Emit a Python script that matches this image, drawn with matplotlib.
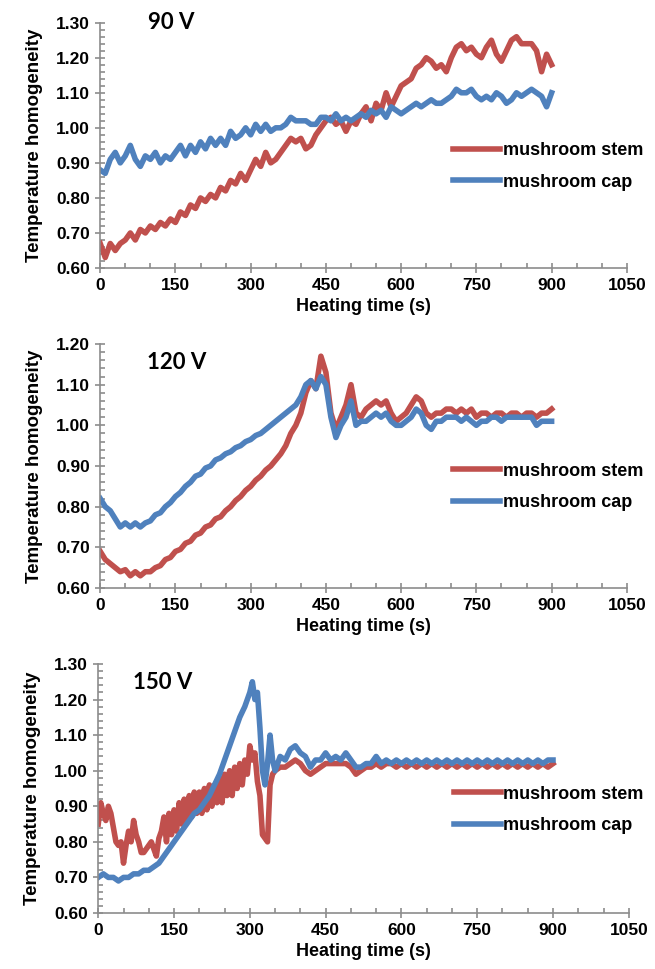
import numpy as np
import matplotlib
matplotlib.use('Agg')
import matplotlib.pyplot as plt
from matplotlib.ticker import MultipleLocator, FormatStrFormatter

plt.rcParams['font.family'] = ['Liberation Sans', 'DejaVu Sans']
plt.rcParams['font.weight'] = 'bold'

RED = '#C0504D'
BLUE = '#4F81BD'
GRAY = '#8C8C8C'

# ---- 90 V ----
t_90 = np.arange(0, 901, 10)
stem_90 = [0.67, 0.63, 0.67, 0.65, 0.67, 0.68, 0.70, 0.68, 0.71, 0.70,
           0.72, 0.71, 0.73, 0.72, 0.74, 0.73, 0.76, 0.75, 0.78, 0.77,
           0.80, 0.79, 0.81, 0.80, 0.83, 0.82, 0.85, 0.84, 0.87, 0.85,
           0.88, 0.91, 0.89, 0.93, 0.90, 0.91, 0.93, 0.95, 0.97, 0.96,
           0.97, 0.94, 0.95, 0.98, 1.00, 1.02, 1.03, 1.01, 1.02, 0.99,
           1.02, 1.01, 1.04, 1.06, 1.02, 1.07, 1.05, 1.10, 1.06, 1.09,
           1.12, 1.13, 1.14, 1.17, 1.18, 1.20, 1.19, 1.17, 1.18, 1.16,
           1.20, 1.23, 1.24, 1.22, 1.23, 1.21, 1.20, 1.23, 1.25, 1.21,
           1.19, 1.22, 1.25, 1.26, 1.24, 1.24, 1.24, 1.22, 1.16, 1.21,
           1.18]
cap_90 = [0.88, 0.87, 0.91, 0.93, 0.90, 0.92, 0.95, 0.91, 0.89, 0.92,
          0.91, 0.93, 0.90, 0.92, 0.91, 0.93, 0.95, 0.92, 0.95, 0.93,
          0.96, 0.94, 0.97, 0.95, 0.97, 0.95, 0.99, 0.97, 0.98, 1.00,
          0.98, 1.01, 0.99, 1.01, 0.99, 1.00, 1.00, 1.01, 1.03, 1.02,
          1.02, 1.02, 1.01, 1.01, 1.03, 1.03, 1.02, 1.04, 1.02, 1.03,
          1.02, 1.03, 1.04, 1.03, 1.05, 1.04, 1.05, 1.03, 1.06, 1.05,
          1.04, 1.05, 1.06, 1.07, 1.06, 1.07, 1.08, 1.07, 1.07, 1.08,
          1.09, 1.11, 1.10, 1.10, 1.11, 1.09, 1.08, 1.09, 1.08, 1.10,
          1.09, 1.07, 1.08, 1.10, 1.09, 1.10, 1.11, 1.10, 1.09, 1.06,
          1.10]

# ---- 120 V ----
t_120 = np.arange(0, 901, 10)
stem_120 = [0.69, 0.67, 0.66, 0.65, 0.64, 0.645, 0.63, 0.64, 0.63, 0.64,
            0.64, 0.65, 0.655, 0.67, 0.675, 0.69, 0.695, 0.71, 0.715, 0.73,
            0.735, 0.75, 0.755, 0.77, 0.775, 0.79, 0.80, 0.815, 0.825, 0.84,
            0.85, 0.865, 0.875, 0.89, 0.90, 0.915, 0.93, 0.95, 0.98, 1.00,
            1.03, 1.08, 1.11, 1.09, 1.17, 1.13, 1.03, 0.99, 1.02, 1.05,
            1.10, 1.03, 1.02, 1.04, 1.05, 1.06, 1.05, 1.06, 1.03, 1.01,
            1.02, 1.03, 1.05, 1.07, 1.06, 1.03, 1.02, 1.03, 1.03, 1.04,
            1.04, 1.03, 1.04, 1.03, 1.04, 1.02, 1.03, 1.03, 1.02, 1.03,
            1.03, 1.02, 1.03, 1.03, 1.02, 1.03, 1.03, 1.02, 1.03, 1.03,
            1.04]
cap_120 = [0.82, 0.80, 0.79, 0.77, 0.75, 0.76, 0.75, 0.76, 0.75, 0.76,
           0.765, 0.78, 0.785, 0.80, 0.81, 0.825, 0.835, 0.85, 0.86, 0.875,
           0.88, 0.895, 0.90, 0.915, 0.92, 0.93, 0.935, 0.945, 0.95, 0.96,
           0.965, 0.975, 0.98, 0.99, 1.00, 1.01, 1.02, 1.03, 1.04, 1.05,
           1.07, 1.10, 1.11, 1.09, 1.12, 1.10, 1.02, 0.97, 1.00, 1.02,
           1.06, 1.00, 1.01, 1.01, 1.02, 1.03, 1.02, 1.03, 1.01, 1.00,
           1.00, 1.01, 1.02, 1.04, 1.03, 1.00, 0.99, 1.01, 1.01, 1.02,
           1.02, 1.02, 1.01, 1.02, 1.01, 1.00, 1.01, 1.01, 1.02, 1.02,
           1.01, 1.02, 1.02, 1.02, 1.02, 1.02, 1.02, 1.00, 1.01, 1.01,
           1.01]

# ---- 150 V ----
t_stem_150 = list(range(0, 351, 5)) + list(range(360, 901, 10))
stem_150 = [0.85, 0.91, 0.88, 0.86, 0.90, 0.88, 0.84, 0.80, 0.79, 0.80,
            0.74, 0.79, 0.83, 0.80, 0.86, 0.82, 0.80, 0.77, 0.77, 0.78,
            0.79, 0.80, 0.78, 0.76, 0.81, 0.83, 0.87, 0.80, 0.88, 0.82,
            0.89, 0.83, 0.91, 0.85, 0.92, 0.86, 0.93, 0.87, 0.94, 0.88,
            0.94, 0.88, 0.95, 0.89, 0.96, 0.90, 0.96, 0.91, 0.98, 0.91,
            0.99, 0.93, 1.00, 0.93, 1.01, 0.95, 1.02, 0.96, 1.03, 0.99,
            1.07, 1.03, 1.05, 0.97, 0.93, 0.82, 0.81, 0.80, 0.96, 0.99,
            1.00,
            1.01, 1.01, 1.02, 1.03, 1.02, 1.00, 0.99, 1.00, 1.01, 1.02,
            1.02, 1.02, 1.02, 1.02, 1.01, 0.99, 1.00, 1.01, 1.01, 1.02,
            1.01, 1.02, 1.02, 1.01, 1.02, 1.01, 1.02, 1.01, 1.02, 1.01,
            1.02, 1.01, 1.02, 1.01, 1.02, 1.01, 1.02, 1.01, 1.02, 1.01,
            1.02, 1.01, 1.02, 1.01, 1.02, 1.01, 1.02, 1.01, 1.02, 1.01,
            1.02, 1.01, 1.02, 1.01, 1.02]
t_cap_150 = (list(range(0, 301, 10)) + [305, 310, 315, 320, 325, 330, 335,
             340, 345, 350] + list(range(360, 901, 10)))
cap_150 = [0.70, 0.71, 0.70, 0.70, 0.69, 0.70, 0.70, 0.71, 0.71, 0.72,
           0.72, 0.73, 0.74, 0.76, 0.78, 0.80, 0.82, 0.84, 0.86, 0.88,
           0.89, 0.91, 0.93, 0.96, 0.99, 1.03, 1.07, 1.11, 1.15, 1.18,
           1.22,
           1.25, 1.20, 1.22, 1.12, 1.00, 0.96, 1.02, 1.10, 1.03, 1.00,
           1.04, 1.03, 1.06, 1.07, 1.05, 1.04, 1.01, 1.03, 1.03, 1.05,
           1.03, 1.04, 1.03, 1.05, 1.03, 1.01, 1.01, 1.02, 1.02, 1.04,
           1.02, 1.03, 1.02, 1.03, 1.02, 1.03, 1.02, 1.03, 1.02, 1.03,
           1.02, 1.03, 1.02, 1.03, 1.02, 1.03, 1.02, 1.03, 1.02, 1.03,
           1.02, 1.03, 1.02, 1.03, 1.02, 1.03, 1.02, 1.03, 1.02, 1.03,
           1.02, 1.03, 1.02, 1.03, 1.03]

panels = [
   ("90 V", t_90, stem_90, t_90, cap_90, 1.30, 0.091, 1.0),
   ("120 V", t_120, stem_120, t_120, cap_120, 1.20, 0.089, 0.926),
   ("150 V", t_stem_150, stem_150, t_cap_150, cap_150, 1.30, 0.066, 0.924),
]

# axes boxes in figure fraction (left, bottom, width, height)
boxes = [
   (0.153, 0.7234, 0.804, 0.2532),
   (0.153, 0.3932, 0.804, 0.2518),
   (0.150, 0.0578, 0.810, 0.2570),
]

fig = plt.figure(figsize=(6.55, 9.69), dpi=100)

for (name, ts, stem, tc, cap, ytop, lx, ly), box in zip(panels, boxes):
   ax = fig.add_axes(box)
   ax.plot(ts, stem, color=RED, lw=4, label='mushroom stem', solid_joinstyle='round')
   ax.plot(tc, cap, color=BLUE, lw=4, label='mushroom cap', solid_joinstyle='round')

   ax.set_xlim(0, 1050)
   ax.set_ylim(0.60, ytop)
   ax.xaxis.set_major_locator(MultipleLocator(150))
   ax.xaxis.set_minor_locator(MultipleLocator(50))
   ax.yaxis.set_major_locator(MultipleLocator(0.10))
   ax.yaxis.set_minor_locator(MultipleLocator(0.02))
   ax.yaxis.set_major_formatter(FormatStrFormatter('%.2f'))

   for side in ['top', 'right']:
      ax.spines[side].set_visible(False)
   for side in ['left', 'bottom']:
      ax.spines[side].set_color(GRAY)
      ax.spines[side].set_linewidth(1.2)

   ax.tick_params(which='major', direction='inout', length=7, width=1.2,
                  color=GRAY, labelsize=12.5, pad=4)
   ax.tick_params(which='minor', direction='in', length=3.5, width=1.2, color=GRAY)
   for lab in ax.get_xticklabels() + ax.get_yticklabels():
      lab.set_fontweight('bold')

   ax.set_xlabel('Heating time (s)', fontsize=13, fontweight='bold', labelpad=3)
   ax.set_ylabel('Temperature homogeneity', fontsize=13.5, fontweight='bold', labelpad=9)

   ax.text(lx, ly, name, transform=ax.transAxes, ha='left', va='center',
           fontsize=16, fontweight='bold', family=['Lato', 'DejaVu Sans'])

   ax.legend(loc='center left', bbox_to_anchor=(0.67, 0.414), frameon=False,
             prop={'size': 13, 'weight': 'bold'}, handlelength=2.6,
             handletextpad=0.15, labelspacing=0.8, borderaxespad=0, borderpad=0)

fig.savefig('out.png', dpi=100)
